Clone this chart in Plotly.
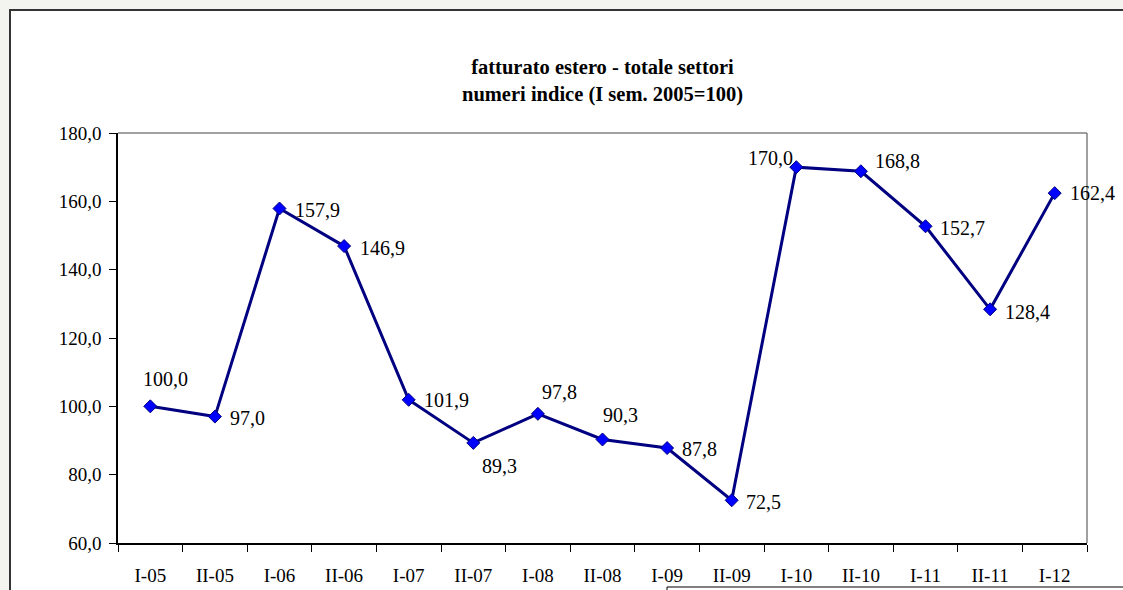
import plotly.graph_objects as go

categories = ["I-05", "II-05", "I-06", "II-06", "I-07", "II-07", "I-08", "II-08",
              "I-09", "II-09", "I-10", "II-10", "I-11", "II-11", "I-12"]
values = [100.0, 97.0, 157.9, 146.9, 101.9, 89.3, 97.8, 90.3, 87.8, 72.5,
          170.0, 168.8, 152.7, 128.4, 162.4]
y_ticks = [60, 80, 100, 120, 140, 160, 180]

# label offsets in pixels (dx right, dy down) relative to each point -- style only
label_offsets = [(15, -27), (33, 1), (38, 1), (38, 2), (38, 0), (26, 23), (22, -22),
                 (18, -24), (32, 1), (32, 2), (-26, -9), (37, -10), (37, 2), (37, 3), (38, 0)]

def fmt(v):
    return f"{v:.1f}".replace(".", ",")

FONT = "Liberation Serif"

fig = go.Figure()
fig.add_trace(go.Scatter(
    x=categories, y=values, mode="lines+markers",
    line=dict(color="#000080", width=3),
    marker=dict(symbol="diamond", size=10, color="#0000ff",
                line=dict(color="#000080", width=1)),
    cliponaxis=False, showlegend=False, hoverinfo="skip"))

for c, v, (dx, dy) in zip(categories, values, label_offsets):
    fig.add_annotation(x=c, y=v, text=fmt(v), showarrow=False,
                       xanchor="center", yanchor="middle",
                       xshift=dx, yshift=-dy,
                       font=dict(family=FONT, size=20, color="#000000"))

L, R, T, B = 118, 36, 133, 47
W, H = 1123, 590
pw, ph = W - L - R, H - T - B

def px_x(p):
    return (p - L) / pw

def px_y(p):
    return (H - B - p) / ph

shapes = [
    dict(type="rect", xref="paper", yref="paper", layer="below",
         x0=px_x(10), x1=px_x(1140), y0=px_y(610), y1=px_y(10),
         fillcolor="white", line=dict(color="#333333", width=2)),
    dict(type="line", xref="paper", yref="paper", x0=0, x1=1, y0=1, y1=1,
         line=dict(color="#808080", width=1.5)),
    dict(type="line", xref="paper", yref="paper", x0=1, x1=1, y0=0, y1=1,
         line=dict(color="#808080", width=1.5)),
    dict(type="rect", xref="paper", yref="paper",
         x0=px_x(667), x1=px_x(1140), y0=px_y(610), y1=px_y(587),
         fillcolor="white", line=dict(color="#000000", width=1)),
]

fig.update_layout(
    width=W, height=H,
    margin=dict(l=L, r=R, t=T, b=B, autoexpand=False),
    paper_bgcolor="#f3f3ef", plot_bgcolor="white",
    font=dict(family=FONT, size=19, color="#000000"),
    title=dict(text="<b>fatturato estero - totale settori<br>numeri indice (I sem. 2005=100)</b>",
               x=0.5, xref="paper", xanchor="center", y=1 - 74 / H, yanchor="middle",
               font=dict(family=FONT, size=20.5, color="#000000")),
    shapes=shapes,
    xaxis=dict(type="category", showline=True, linecolor="#000000", linewidth=1.5,
               ticks="outside", ticklen=7, tickcolor="#000000", tickson="boundaries",
               showgrid=False, zeroline=False, ticklabelstandoff=14, automargin=False,
               tickfont=dict(family=FONT, size=19), range=[-0.5, 14.5]),
    yaxis=dict(range=[60, 180], tickvals=y_ticks, ticktext=[fmt(v) for v in y_ticks],
               showline=True, linecolor="#000000", linewidth=1.5,
               ticks="outside", ticklen=7, tickcolor="#000000", automargin=False,
               showgrid=False, zeroline=False, ticklabelstandoff=4,
               tickfont=dict(family=FONT, size=19)),
)

fig.write_html("out.html", config={"displayModeBar": False},
               post_script="document.body.style.margin='0';document.body.style.background='#f3f3ef';")
